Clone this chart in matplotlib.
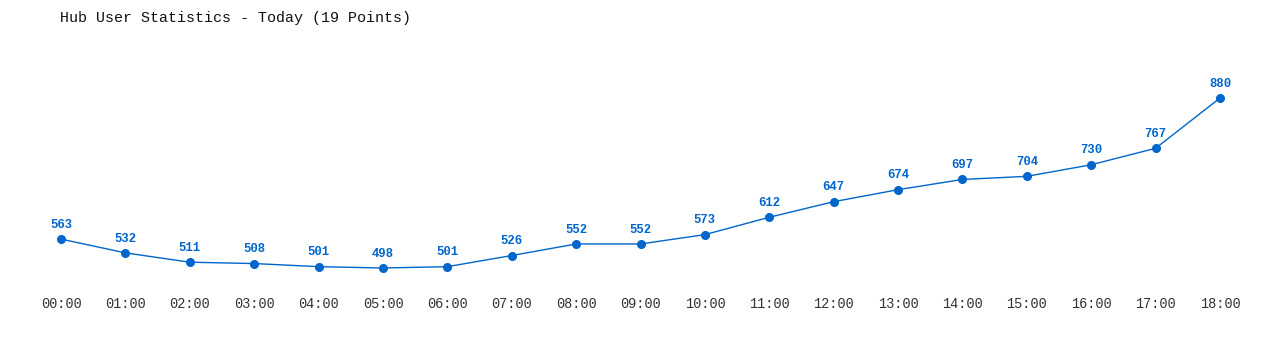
"""
Hub user statistics line chart
"""
import matplotlib
matplotlib.use("Agg")
import matplotlib.pyplot as plt

COLOR = "#0066cc"
TEXT = "#333333"

hours = ["00:00", "01:00", "02:00", "03:00", "04:00", "05:00", "06:00",
         "07:00", "08:00", "09:00", "10:00", "11:00", "12:00", "13:00",
         "14:00", "15:00", "16:00", "17:00", "18:00"]
users = [563, 532, 511, 508, 501, 498, 501, 526, 552, 552, 573, 612,
         647, 674, 697, 704, 730, 767, 880]

W, H = 1280, 350
fig = plt.figure(figsize=(W / 100, H / 100), dpi=100)
# axes box placed so that 00:00 sits at x=61px and 18:00 at x=1220px
ax = fig.add_axes([61 / W, 1 - 268 / H, (1220 - 61) / W, (268 - 98) / H])

x = list(range(len(hours)))
ax.plot(x, users, color=COLOR, linewidth=1, marker="o", markersize=5.5,
        clip_on=False)

for xi, v in zip(x, users):
    ax.annotate(str(v), xy=(xi, v), xytext=(0, 6), textcoords="offset points",
                ha="center", va="bottom", color=COLOR, fontsize=8.8,
                fontweight="bold", family="Liberation Mono")

ax.set_xlim(0, 18)
ax.set_ylim(498, 880)
ax.set_xticks(x)
ax.set_xticklabels(hours, family="Liberation Mono", fontsize=9.8, color=TEXT)
ax.set_yticks([])
ax.tick_params(axis="x", length=0, pad=21)
for s in ax.spines.values():
    s.set_visible(False)

fig.text(60 / W, 1 - 18 / H, "Hub User Statistics - Today (19 Points)",
         family="Liberation Mono", fontsize=10.8, color="#111111",
         ha="left", va="center")

fig.savefig("out.png", dpi=100)
